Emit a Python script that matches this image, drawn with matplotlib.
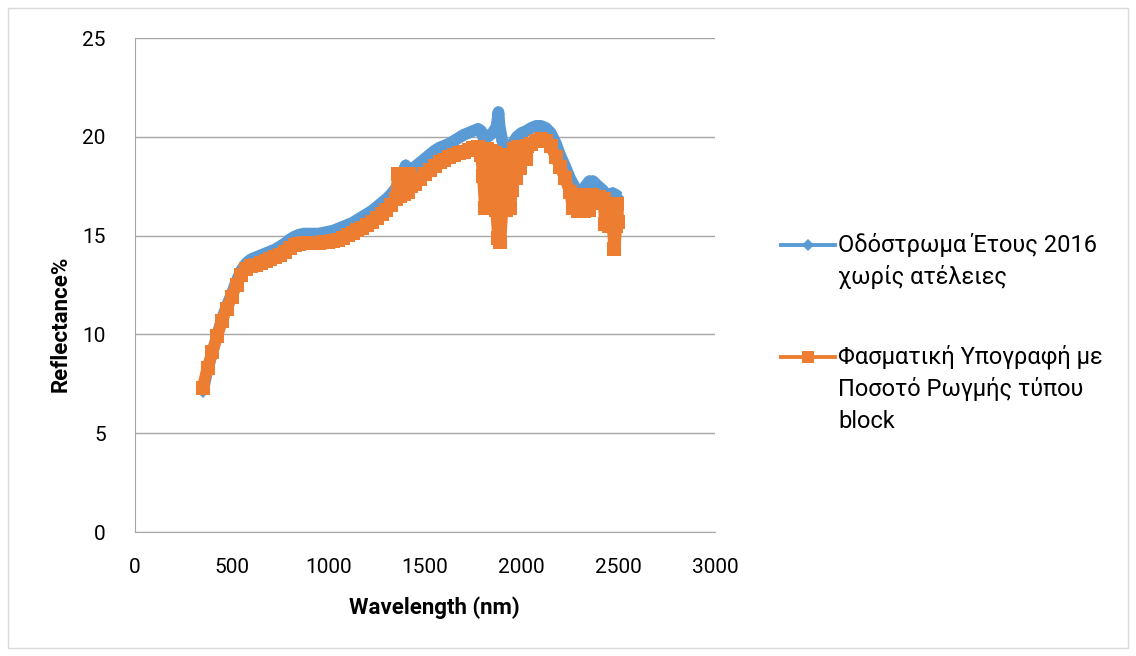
import matplotlib
matplotlib.use("Agg")
import matplotlib.pyplot as plt
from matplotlib.lines import Line2D
from matplotlib.patches import Rectangle

plt.rcParams['font.family'] = ['Roboto', 'DejaVu Sans']

# pavement 2016, no defects
wl_clean = [350, 375, 400, 425, 450, 475, 500, 525, 550, 575, 600, 625, 650, 675, 700,
            725, 750, 775, 800, 825, 850, 875, 900, 925, 950, 975, 1000, 1025, 1050,
            1075, 1100, 1125, 1150, 1175, 1200, 1225, 1250, 1275, 1300, 1325, 1350,
            1375, 1400, 1410, 1425, 1450, 1475, 1500, 1525, 1550, 1575, 1600, 1625,
            1650, 1675, 1700, 1725, 1750, 1775, 1790, 1800, 1825, 1850, 1870, 1880,
            1885, 1890, 1900, 1920, 1935, 1950, 1975, 2000, 2025, 2050, 2075, 2100,
            2125, 2150, 2175, 2200, 2225, 2250, 2275, 2300, 2310, 2330, 2350, 2370,
            2390, 2420, 2445, 2470, 2490, 2500]
refl_clean = [7.1, 8.2, 9.1, 9.95, 10.8, 11.45, 12.05, 12.7, 13.25, 13.6, 13.8, 13.9,
              14.0, 14.1, 14.2, 14.3, 14.45, 14.6, 14.8, 14.95, 15.05, 15.1, 15.1, 15.1,
              15.1, 15.15, 15.2, 15.25, 15.35, 15.45, 15.55, 15.65, 15.8, 15.95, 16.1,
              16.25, 16.45, 16.65, 16.85, 17.1, 17.4, 17.9, 18.55, 18.4, 18.3, 18.5,
              18.7, 18.9, 19.1, 19.3, 19.45, 19.55, 19.65, 19.8, 19.95, 20.1, 20.2,
              20.3, 20.4, 20.3, 20.0, 20.0, 20.2, 20.5, 21.25, 20.6, 20.3, 19.8, 19.3,
              19.3, 19.6, 20.0, 20.2, 20.3, 20.45, 20.55, 20.55, 20.45, 20.2, 19.7,
              19.05, 18.5, 17.9, 17.45, 17.2, 17.15, 17.5, 17.75, 17.75, 17.55, 17.3,
              16.95, 17.15, 17.05, 16.95]

# spectral signature with block cracking
wl_block = [350, 375, 400, 425, 450, 475, 500, 525, 550, 575, 600, 625, 650, 675, 700,
            725, 750, 775, 800, 825, 850, 875, 900, 925, 950, 975, 1000, 1025, 1050,
            1075, 1100, 1125, 1150, 1175, 1200, 1225, 1250, 1275, 1300, 1325, 1350,
            1360, 1370, 1380, 1390, 1400, 1410, 1420, 1430, 1450, 1475, 1500, 1525,
            1550, 1575, 1600, 1625, 1650, 1675, 1700, 1725, 1750, 1775, 1790, 1800,
            1810, 1820, 1830, 1840, 1850, 1860, 1868, 1878, 1890, 1900, 1910, 1920,
            1930, 1940, 1950, 1960, 1970, 1980, 1990, 2005, 2020, 2030, 2050, 2075,
            2100, 2125, 2150, 2175, 2200, 2225, 2250, 2265, 2275, 2290, 2305, 2320,
            2335, 2350, 2365, 2380, 2400, 2415, 2425, 2430, 2440, 2450, 2460, 2470,
            2480, 2490, 2495, 2500]
refl_block = [7.3, 8.3, 9.1, 9.9, 10.7, 11.3, 11.9, 12.5, 13.0, 13.3, 13.45, 13.5,
              13.6, 13.7, 13.8, 13.9, 14.0, 14.15, 14.35, 14.5, 14.6, 14.65, 14.65,
              14.65, 14.65, 14.7, 14.7, 14.75, 14.8, 14.9, 15.05, 15.15, 15.3, 15.4,
              15.55, 15.7, 15.9, 16.1, 16.3, 16.55, 16.85, 18.1, 17.0, 18.1, 17.1,
              18.1, 17.2, 18.1, 17.5, 17.6, 17.85, 18.1, 18.3, 18.5, 18.7, 18.85,
              19.0, 19.1, 19.2, 19.25, 19.35, 19.42, 19.5, 19.1, 18.0, 16.4, 19.4,
              16.4, 19.3, 16.4, 19.2, 16.3, 14.9, 14.7, 16.3, 19.0, 16.3, 19.1, 16.4,
              17.3, 19.4, 17.9, 19.5, 18.4, 19.5, 18.9, 19.55, 19.65, 19.8, 19.9,
              19.8, 19.55, 19.0, 18.45, 17.9, 17.2, 16.4, 17.0, 16.25, 17.05, 16.25,
              17.05, 16.3, 17.05, 16.7, 16.95, 16.65, 16.85, 15.6, 16.6, 15.5, 16.6,
              15.5, 14.3, 15.5, 16.6, 15.7]

labels = [["Οδόστρωμα Έτους 2016", "χωρίς ατέλειες"],
          ["Φασματική Υπογραφή με", "Ποσοτό Ρωγμής τύπου", "block"]]

blue = '#5B9BD5'
orange = '#ED7D31'
grid_col = '#A6A6A6'

W, H = 1136, 656
fig = plt.figure(figsize=(W / 100, H / 100), dpi=100)
ax = fig.add_axes([135 / W, 1 - 532 / H, 580 / W, 494 / H])

# the spectra are sampled so densely that the markers merge into a thick band
ax.plot(wl_clean, refl_clean, color=blue, lw=8.5, solid_joinstyle='round',
        solid_capstyle='butt', marker='D', ms=6.5, mew=0, zorder=3)
ax.plot(wl_block, refl_block, color=orange, lw=8.5, solid_joinstyle='round',
        solid_capstyle='butt', marker='s', ms=9.5, mew=0, zorder=4)

ax.set_xlim(0, 3000)
ax.set_ylim(0, 25)
ax.set_xticks(range(0, 3001, 500))
ax.set_yticks(range(0, 26, 5))
ax.yaxis.grid(True, color=grid_col, lw=1)
ax.set_axisbelow(True)
for side in ['top', 'right']:
    ax.spines[side].set_visible(False)
for side in ['left', 'bottom']:
    ax.spines[side].set_color(grid_col)
ax.tick_params(axis='both', length=0, labelsize=15)
ax.tick_params(axis='y', pad=21)
ax.tick_params(axis='x', pad=19)

ax.set_xlabel('Wavelength (nm)', fontsize=16, fontweight='bold')
ax.set_ylabel('Reflectance%', fontsize=16, fontweight='bold')
ax.xaxis.set_label_coords(0.516, -0.131)
ax.yaxis.set_label_coords(-0.110, 0.421)

# legend on the right, drawn by hand so the wrapped labels sit like the original
entries = [(blue, 'D', 6, 245), (orange, 's', 9, 357)]
for (col, mk, ms, y0), lines in zip(entries, labels):
    yf = 1 - y0 / H
    fig.add_artist(Line2D([781 / W, 835 / W], [yf, yf], color=col, lw=2.8,
                          transform=fig.transFigure))
    fig.add_artist(Line2D([808 / W], [yf], color=col, marker=mk, ms=ms, mew=0,
                          transform=fig.transFigure))
    for i, line in enumerate(lines):
        fig.text(838 / W, 1 - (y0 + 32 * i) / H, line, fontsize=17, va='center',
                 ha='left')

# chart frame
fig.add_artist(Rectangle((8 / W, 8 / H), 1 - 16 / W, 1 - 16 / H, fill=False,
                         edgecolor='#D9D9D9', lw=1, transform=fig.transFigure))

fig.savefig('out.png', dpi=100)
